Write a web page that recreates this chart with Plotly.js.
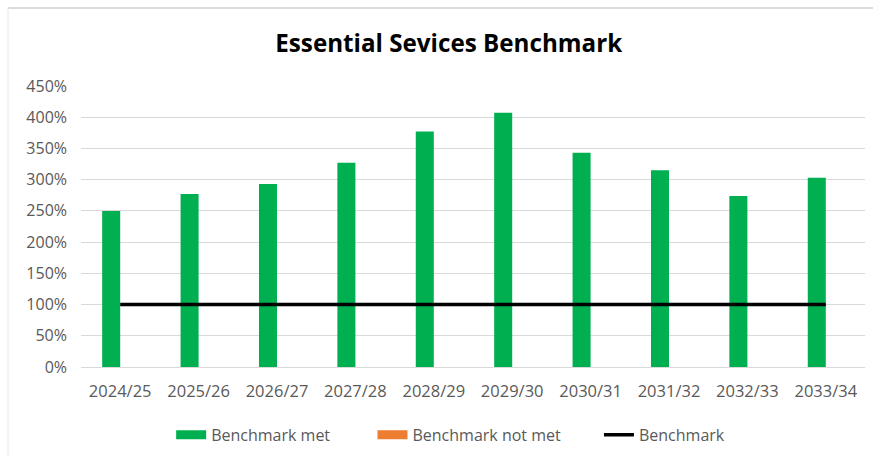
<!DOCTYPE html>
<html><head><meta charset="utf-8">
<script src="https://cdn.plot.ly/plotly-3.0.1.min.js"></script>
<style>html,body{margin:0;padding:0;background:#fff}#chart{width:873px;height:456px}</style>
</head><body><div id="chart"></div>
<script>
const categories = ["2024/25","2025/26","2026/27","2027/28","2028/29","2029/30","2030/31","2031/32","2032/33","2033/34"];
const benchmarkMet = [250, 277, 293, 327, 377, 407, 343, 315, 274, 303];
const benchmarkNotMet = [0, 0, 0, 0, 0, 0, 0, 0, 0, 0];
const benchmark = [100, 100, 100, 100, 100, 100, 100, 100, 100, 100];
const yTicks = [0, 50, 100, 150, 200, 250, 300, 350, 400, 450];
const seriesNames = ["Benchmark met", "Benchmark not met", "Benchmark"];
const GREEN = '#00b050', ORANGE = '#ed7d31';
const NB = '\u00a0';

const traces = [
  {type:'bar', name:seriesNames[0], x:categories, y:benchmarkMet, marker:{color:GREEN}, showlegend:false},
  {type:'bar', name:seriesNames[1], x:categories, y:benchmarkNotMet, marker:{color:ORANGE}, showlegend:false},
  {type:'scatter', mode:'lines', name:seriesNames[2], x:categories, y:benchmark, line:{color:'#000000', width:3.5}, showlegend:false},
  // legend entries (no data drawn)
  {type:'scatter', mode:'lines', name:seriesNames[0] + NB.repeat(9), x:[null], y:[null], line:{color:GREEN, width:9}},
  {type:'scatter', mode:'lines', name:seriesNames[1] + NB.repeat(8), x:[null], y:[null], line:{color:ORANGE, width:9}},
  {type:'scatter', mode:'lines', name:seriesNames[2], x:[null], y:[null], line:{color:'#000000', width:3.5}}
];
const FONT = '"Open Sans", Lato, sans-serif';
const layout = {
  width:873, height:456,
  margin:{l:81, r:8, t:86, b:89},
  paper_bgcolor:'#ffffff', plot_bgcolor:'#ffffff',
  font:{family:FONT, color:'#595959', size:16},
  title:{text:'<b>Essential Sevices Benchmark</b>', x:0.514, xanchor:'center', y:0.905, yanchor:'middle', font:{size:24.2, color:'#000000', family:FONT}},
  barmode:'group', bargap:0.54, bargroupgap:0,
  showlegend:true,
  legend:{orientation:'h', x:0.115, xanchor:'left', xref:'paper', y:0.0834, yanchor:'top', yref:'container', font:{size:16, color:'#595959'}, traceorder:'normal', itemwidth:30},
  xaxis:{type:'category', showgrid:false, showline:false, zeroline:false, ticks:'', tickfont:{size:16.5, color:'#595959'}, ticklabelstandoff:12, automargin:false},
  yaxis:{range:[0,450], tickvals:yTicks, ticktext:yTicks.map(v=>v+'%'), showgrid:true, gridcolor:'#d9d9d9', gridwidth:1, zeroline:true, zerolinecolor:'#d9d9d9', showline:false, ticks:'', tickfont:{size:16, color:'#595959'}, ticklabelstandoff:13, automargin:false},
  shapes:[
    {type:'line', xref:'paper', yref:'paper', x0:(8-81)/784, x1:(873-81)/784, y0:(367-8)/281, y1:(367-8)/281, line:{color:'#d0d0d0', width:1.5}},
    {type:'line', xref:'paper', yref:'paper', x0:(8-81)/784, x1:(8-81)/784, y0:(367-8)/281, y1:(367-456)/281, line:{color:'#e6e6e6', width:1}}
  ]
};
Plotly.newPlot('chart', traces, layout, {displayModeBar:false, staticPlot:true});
</script>
</body></html>
